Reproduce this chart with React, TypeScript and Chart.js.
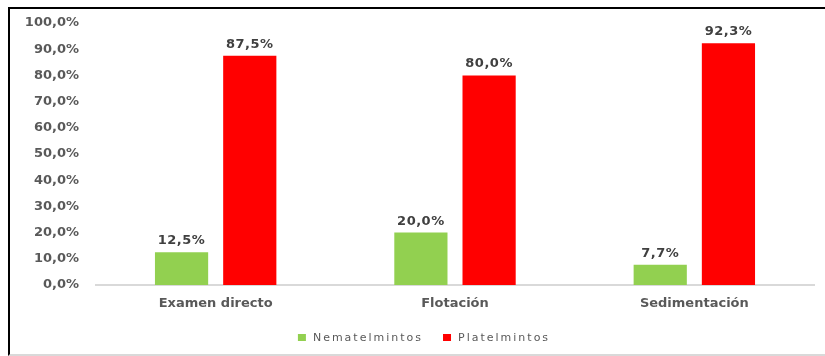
import React, { useEffect, useRef } from "react";
import { Chart, registerables } from "chart.js";

Chart.register(...registerables);

const categories = ["Examen directo", "Flotación", "Sedimentación"];
const nematelmintos = [12.5, 20.0, 7.7];
const platelmintos = [87.5, 80.0, 92.3];
const seriesNames = ["Nematelmintos", "Platelmintos"];
const seriesColors = ["#92D050", "#FF0000"];

const fmt = (v: number) => v.toFixed(1).replace(".", ",") + "%";
const FONT = "'DejaVu Sans', Verdana, sans-serif";

const labelsPlugin = {
  id: "barLabels",
  afterDatasetsDraw(chart: any) {
    const ctx = chart.ctx;
    ctx.save();
    ctx.letterSpacing = "0.5px";
    ctx.font = `bold 13px ${FONT}`;
    ctx.fillStyle = "#404040";
    ctx.textAlign = "center";
    ctx.textBaseline = "alphabetic";
    chart.data.datasets.forEach((ds: any, i: number) => {
      const meta = chart.getDatasetMeta(i);
      meta.data.forEach((bar: any, j: number) => {
        ctx.fillText(fmt(ds.data[j]), bar.x, bar.y - 8);
      });
    });
    ctx.restore();
  },
};

const legendPlugin = {
  id: "customLegend",
  afterDraw(chart: any) {
    const ctx = chart.ctx;
    ctx.save();
    ctx.letterSpacing = "2px";
    ctx.font = `11px ${FONT}`;
    ctx.textBaseline = "middle";
    ctx.textAlign = "left";
    const box = 8;
    const gapBoxText = 7;
    const gapItems = 20;
    const widths = seriesNames.map((n) => ctx.measureText(n).width);
    const total = widths.reduce((a, w) => a + box + gapBoxText + w, 0) + gapItems;
    let x = 414 - total / 2;
    const y = 329;
    seriesNames.forEach((n, i) => {
      ctx.fillStyle = seriesColors[i];
      ctx.fillRect(x, y - 4, box, 7);
      x += box + gapBoxText;
      ctx.fillStyle = "#595959";
      ctx.fillText(n, x, y);
      x += widths[i] + gapItems;
    });
    ctx.restore();
  },
};

export default function App() {
  const ref = useRef<HTMLCanvasElement>(null);
  useEffect(() => {
    if (!ref.current) return;
    const chart = new Chart(ref.current, {
      type: "bar",
      data: {
        labels: categories,
        datasets: [
          {
            label: seriesNames[0],
            data: nematelmintos,
            backgroundColor: seriesColors[0],
            categoryPercentage: 0.57,
            barPercentage: 0.78,
          },
          {
            label: seriesNames[1],
            data: platelmintos,
            backgroundColor: seriesColors[1],
            categoryPercentage: 0.57,
            barPercentage: 0.78,
          },
        ],
      },
      options: {
        animation: false,
        responsive: false,
        layout: { padding: { top: 14, right: 11, left: 0, bottom: 0 } },
        plugins: {
          legend: { display: false },
          tooltip: { enabled: false },
        },
        scales: {
          x: {
            grid: { display: false, drawTicks: false },
            border: { display: true, color: "#d9d9d9", width: 2 },
            ticks: {
              color: "#595959",
              font: { family: FONT, size: 13, weight: "bold" },
              padding: 11,
            },
            afterFit(scale: any) {
              scale.height = 69;
              scale.paddingLeft = 0;
              scale.paddingRight = 0;
            },
          },
          y: {
            min: 0,
            max: 100,
            grid: { display: false, drawTicks: false },
            border: { display: false },
            ticks: {
              stepSize: 10,
              color: "#595959",
              font: { family: FONT, size: 13, weight: "bold" },
              padding: 17,
              callback: (v: any) => fmt(Number(v)),
            },
            afterFit(scale: any) {
              scale.width = 86;
              scale.paddingTop = 0;
              scale.paddingBottom = 0;
            },
          },
        },
      },
      plugins: [labelsPlugin, legendPlugin],
    } as any);
    return () => chart.destroy();
  }, []);

  return (
    <div
      style={{
        position: "absolute",
        left: 8,
        top: 7,
        width: 817,
        height: 349,
        boxSizing: "border-box",
        borderTop: "2px solid #000",
        borderLeft: "2px solid #000",
        borderBottom: "2px solid #d9d9d9",
        background: "#fff",
      }}
    >
      <canvas ref={ref} width={815} height={345} style={{ display: "block" }} />
    </div>
  );
}
